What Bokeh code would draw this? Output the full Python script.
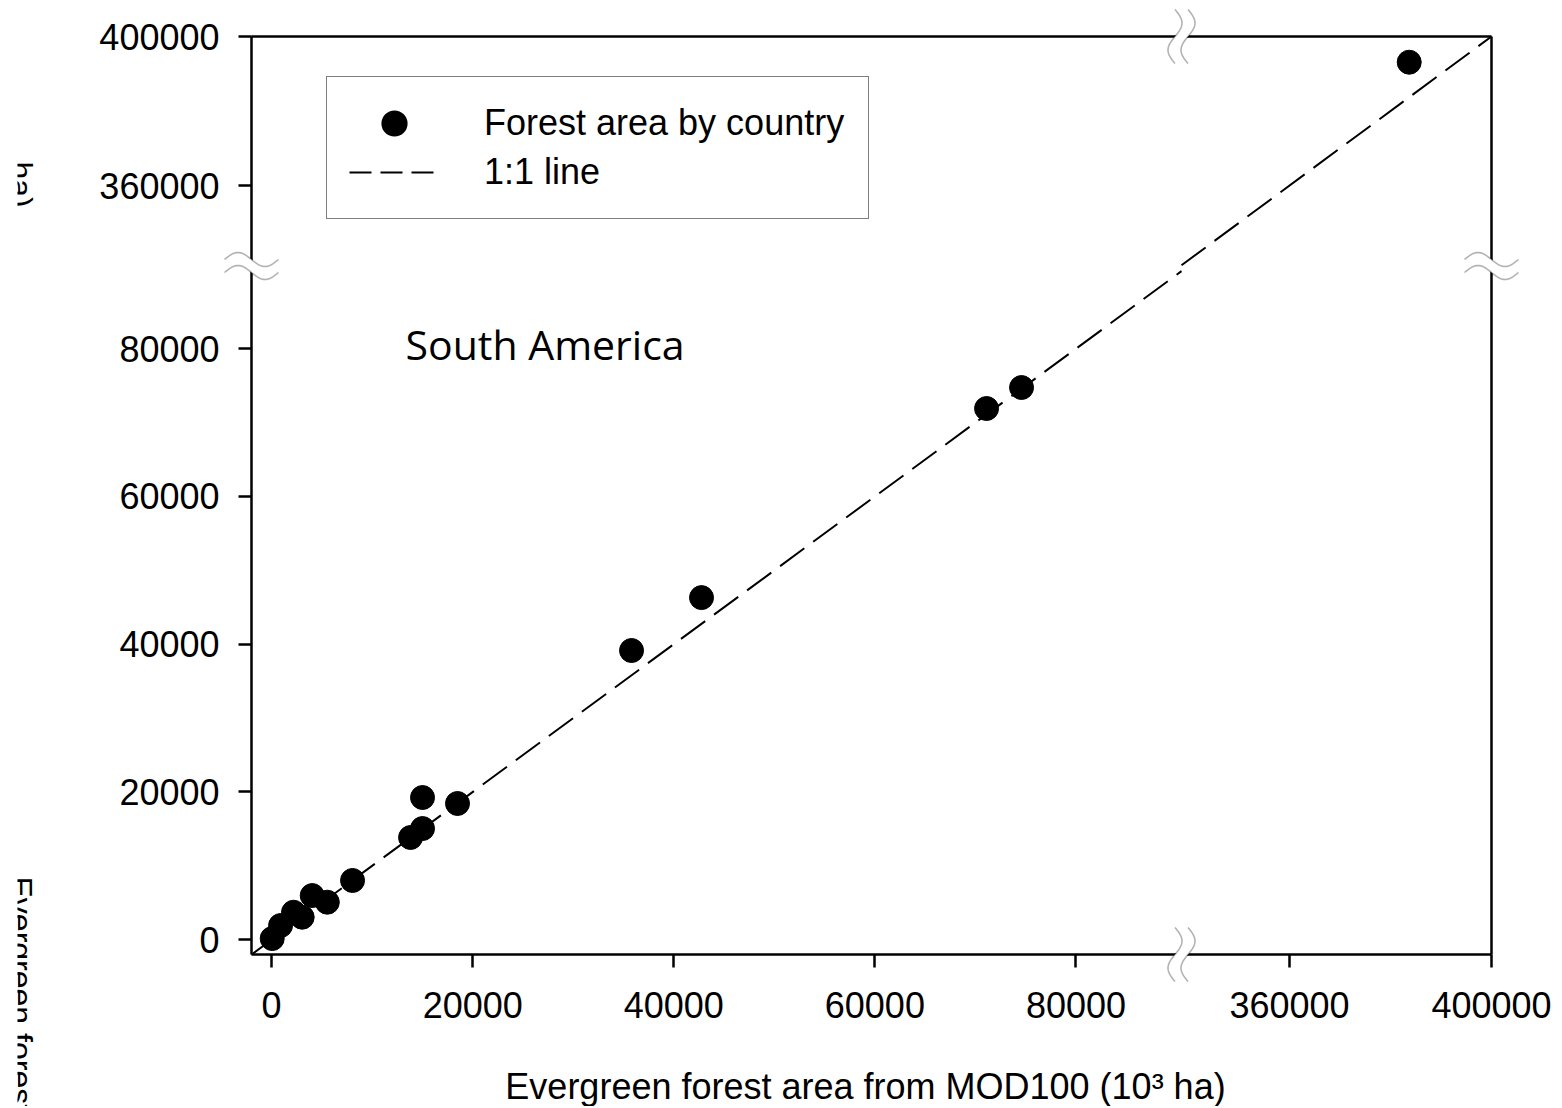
import numpy as np
from bokeh.plotting import figure
from bokeh.models import (Range1d, LinearAxis, FixedTicker, Label, Legend,
                          LegendItem, PolyAnnotation)
from bokeh.embed import file_html
from bokeh.resources import INLINE

# ---------------- data (10^3 ha) ----------------
country_x = [383700, 74590, 71110, 42760, 35800, 18490, 15010, 15010,
             13820, 8050, 5540, 4040, 3040, 2180, 890, 60]
country_y = [393100, 74750, 71910, 46310, 39150, 18440, 19250, 15050,
             13840, 8020, 5080, 5980, 3050, 3720, 1920, 160]

x_ticks_low = [0, 20000, 40000, 60000, 80000]
x_ticks_high = [360000, 400000]
y_ticks_low = [0, 20000, 40000, 60000, 80000]
y_ticks_high = [360000, 400000]

x_segments = [(-2000, 90500), (338600, 400000)]
y_segments = [(-2000, 91200), (338400, 400000)]
break_frac = 0.75

legend_labels = ["Forest area by country", "1:1 line"]
region_label = "South America"
x_title = "Evergreen forest area from MOD100 (10\u00b3 ha)"
y_title_head = "Evergreen forest area from FRA (10\u00b3"
y_title_tail = "ha)"

# ---------------- layout (px) ----------------
W, H = 1560, 1106
FR_L = 17                               # frame starts here (clips left text)
BOX_L, BOX_T, BOX_W, BOX_H = 251, 36, 1240, 918
FONT = "Liberation Sans"

(xa0, xa1), (xb0, xb1) = x_segments
(ya0, ya1), (yb0, yb1) = y_segments
kx = (xa1 - xa0) / (break_frac * BOX_W)
kxh = (xb1 - xb0) / ((1 - break_frac) * BOX_W)
ky = (ya1 - ya0) / (break_frac * BOX_H)
kyh = (yb1 - yb0) / ((1 - break_frac) * BOX_H)

x_lo_rng = (xa0 - (BOX_L - FR_L) * kx, xa0 + (W - BOX_L) * kx)
x_hi_rng = (xb1 - (BOX_L + BOX_W - FR_L) * kxh, xb1 + (W - BOX_L - BOX_W) * kxh)
y_lo_rng = (ya0 - (H - BOX_T - BOX_H) * ky, ya0 + (BOX_T + BOX_H) * ky)
y_hi_rng = (yb1 - (H - BOX_T) * kyh, yb1 + BOX_T * kyh)


def cx(sx):  # px -> low-x data
    return xa0 + (sx - BOX_L) * kx


def cy(sy):  # px -> low-y data
    return ya0 + (BOX_T + BOX_H - sy) * ky


def hx_to_lx(v):
    return cx(BOX_L + BOX_W - (xb1 - v) / kxh)


def hy_to_ly(v):
    return cy(BOX_T + (yb1 - v) / kyh)


p = figure(width=W, height=H, title=None,
           x_range=Range1d(*x_lo_rng), y_range=Range1d(*y_lo_rng),
           x_axis_location=None, y_axis_location=None,
           output_backend="svg", toolbar_location=None,
           min_border_left=FR_L, min_border_top=0,
           min_border_right=0, min_border_bottom=0)
p.extra_x_ranges = {"xhi": Range1d(*x_hi_rng)}
p.extra_y_ranges = {"yhi": Range1d(*y_hi_rng)}
p.xgrid.visible = False
p.ygrid.visible = False
p.outline_line_color = None
p.background_fill_color = "white"
p.border_fill_color = "white"

box_left, box_bottom = xa0, ya0
box_right, box_top = hx_to_lx(xb1), hy_to_ly(yb1)

# ---------------- axes ----------------
x_pos = [float(v) for v in x_ticks_low] + [hx_to_lx(v) for v in x_ticks_high]
y_pos = [float(v) for v in y_ticks_low] + [hy_to_ly(v) for v in y_ticks_high]
x_lab = {pos: str(v) for pos, v in zip(x_pos, x_ticks_low + x_ticks_high)}
y_lab = {pos: str(v) for pos, v in zip(y_pos, y_ticks_low + y_ticks_high)}


def style(ax, standoff=19):
    ax.axis_line_width = 2.5
    ax.axis_line_color = "black"
    ax.major_tick_line_width = 2.5
    ax.major_tick_line_color = "black"
    ax.major_tick_out = 13
    ax.major_tick_in = 0
    ax.minor_tick_out = 0
    ax.minor_tick_in = 0
    ax.major_label_text_font = FONT
    ax.major_label_text_font_size = "36px"
    ax.major_label_text_color = "black"
    ax.major_label_standoff = standoff


ax_b = LinearAxis(ticker=FixedTicker(ticks=x_pos), major_label_overrides=x_lab,
                  fixed_location=box_bottom, bounds=(box_left - 1, box_right + 1))
ax_l = LinearAxis(ticker=FixedTicker(ticks=y_pos), major_label_overrides=y_lab,
                  fixed_location=box_left, bounds=(box_bottom - 1, box_top + 1))
ax_r = LinearAxis(ticker=FixedTicker(ticks=[]), fixed_location=box_right,
                  bounds=(box_bottom - 1, box_top + 1))
ax_t = LinearAxis(ticker=FixedTicker(ticks=[]), fixed_location=box_top,
                  bounds=(box_left - 1, box_right + 1))
for ax, side, so in ((ax_b, "below", 24), (ax_l, "left", 19),
                     (ax_r, "right", 19), (ax_t, "above", 19)):
    style(ax, so)
    p.add_layout(ax, side)

# ---------------- data marks ----------------
cxa = np.array(country_x, dtype=float)
cya = np.array(country_y, dtype=float)
low = (cxa <= xa1) & (cya <= ya1)
high = (cxa >= xb0) & (cya >= yb0)

dash = "30 11"
lo_s, lo_e = min(xa0, ya0), min(xa1, ya1)
hi_s, hi_e = max(xb0, yb0), min(xb1, yb1)
p.line([lo_s, lo_e], [lo_s, lo_e], line_color="black", line_width=2,
       line_dash=dash)
p.line([hi_s, hi_e], [hi_s, hi_e], line_color="black", line_width=2,
       line_dash=dash, x_range_name="xhi", y_range_name="yhi")

p.scatter(cxa[low], cya[low], marker="circle", size=24,
          fill_color="black", line_color="black")
p.scatter(cxa[high], cya[high], marker="circle", size=24,
          fill_color="black", line_color="black",
          x_range_name="xhi", y_range_name="yhi")

# legend proxies (NaN data: nothing drawn in the plot, only legend glyphs)
nan = np.array([np.nan])
leg_pts = p.scatter(x=nan, y=nan, marker="circle", size=10, fill_color="black",
                    line_color="black", line_width=7)
leg_line = p.line(x=nan, y=nan, line_color="black", line_width=2,
                  line_dash="22 9")

legend = Legend(items=[LegendItem(label=legend_labels[0], renderers=[leg_pts]),
                       LegendItem(label=legend_labels[1], renderers=[leg_line])],
                location=(326 - FR_L, H - 219), padding=22, glyph_width=90,
                glyph_height=48, spacing=1, label_standoff=45, label_width=362,
                label_text_font=FONT, label_text_font_size="36px",
                label_text_color="black", border_line_color="black",
                border_line_width=1.5, background_fill_color="white",
                background_fill_alpha=1.0)
p.add_layout(legend)

# ---------------- texts (middle baseline: anchor above the text baseline) ----------------
p.add_layout(Label(x=cx(405), y=cy(359 - 15.9), text=region_label,
                   text_font="Open Sans", text_font_size="41px",
                   text_color="black", text_baseline="middle"))
p.add_layout(Label(x=cx(865), y=cy(1098 - 12.5), text=x_title, text_font=FONT,
                   text_font_size="36px", text_color="black",
                   text_align="center", text_baseline="middle"))
for txt, sy in ((y_title_head, 876), (y_title_tail, 161)):
    p.add_layout(Label(x=cx(9 + 11.1), y=cy(sy), text=txt, text_font=FONT,
                       text_font_size="32px", text_color="black",
                       angle=-np.pi / 2, text_align="left",
                       text_baseline="middle"))

# ---------------- axis break symbols ----------------
t = np.linspace(-1, 1, 41)
L, A, D = 27, 7, 13


def add_break(px, py, vertical):
    wave = A * np.sin(np.pi * t)
    along = t * L
    if vertical:   # crosses a horizontal axis line: ")" above, "(" below
        xs1, xs2 = px - D / 2 - wave, px + D / 2 - wave
        ys1 = ys2 = py + along
    else:          # crosses a vertical axis line: hump left, dip right
        ys1, ys2 = py - D / 2 + wave, py + D / 2 + wave
        xs1 = xs2 = px + along
    fx = np.concatenate([xs1, xs2[::-1]])
    fy = np.concatenate([ys1, ys2[::-1]])
    p.add_layout(PolyAnnotation(xs=[cx(v) for v in fx], ys=[cy(v) for v in fy],
                                fill_color="white", fill_alpha=1.0,
                                line_color=None, level="overlay"))
    for xs, ys in ((xs1, ys1), (xs2, ys2)):
        lx = np.concatenate([xs, xs[::-1]])
        ly = np.concatenate([ys, ys[::-1]])
        p.add_layout(PolyAnnotation(xs=[cx(v) for v in lx], ys=[cy(v) for v in ly],
                                    fill_alpha=0.0, line_color="black",
                                    line_width=1.6, level="overlay"))


bx = BOX_L + break_frac * BOX_W
by = BOX_T + (1 - break_frac) * BOX_H
add_break(bx, BOX_T, True)
add_break(bx, BOX_T + BOX_H, True)
add_break(BOX_L, by, False)
add_break(BOX_L + BOX_W, by, False)

open("out.html", "w").write(file_html(p, INLINE))
